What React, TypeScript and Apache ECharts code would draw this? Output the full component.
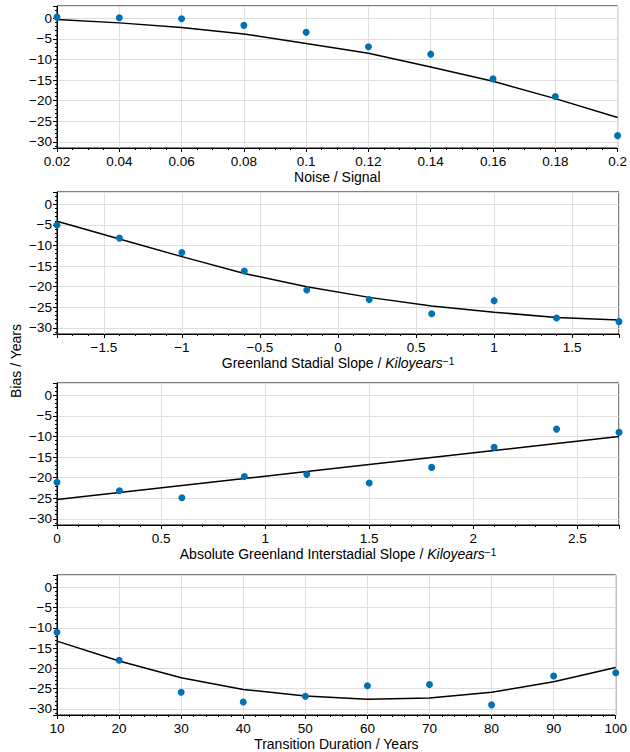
import React, { useEffect, useRef } from "react";
import * as echarts from "echarts";

// Panel 1: Noise / Signal
const noiseX = [0.02, 0.04, 0.06, 0.08, 0.1, 0.12, 0.14, 0.16, 0.18, 0.2];
const noisePts = [0.3, 0.15, -0.1, -1.7, -3.4, -6.9, -8.7, -14.7, -19.0, -28.5];
const noiseFit = [-0.25, -1.1, -2.2, -3.8, -6.1, -8.5, -11.8, -15.3, -19.5, -24.1];

// Panel 2: Greenland Stadial Slope
const stadialX = [-1.8, -1.4, -1.0, -0.6, -0.2, 0.2, 0.6, 1.0, 1.4, 1.8];
const stadialPts = [-5.0, -8.2, -11.7, -16.2, -20.8, -23.1, -26.6, -23.4, -27.6, -28.5];
const stadialFit = [-4.1, -8.4, -12.7, -16.8, -20.0, -22.6, -24.7, -26.2, -27.5, -28.1];

// Panel 3: Absolute Greenland Interstadial Slope
const interX = [0, 0.3, 0.6, 0.9, 1.2, 1.5, 1.8, 2.1, 2.4, 2.7];
const interPts = [-21.1, -23.2, -24.9, -19.7, -19.2, -21.3, -17.5, -12.6, -8.2, -9.0];
const interFit = [-25.3, -23.6, -21.9, -20.2, -18.5, -16.8, -15.1, -13.4, -11.7, -10.0];

// Panel 4: Transition Duration
const durX = [10, 20, 30, 40, 50, 60, 70, 80, 90, 100];
const durPts = [-11.1, -18.0, -25.9, -28.3, -26.9, -24.3, -24.0, -29.0, -21.9, -21.1];
const durFit = [-13.3, -18.2, -22.3, -25.2, -26.8, -27.6, -27.3, -25.9, -23.3, -19.8];

const xNames = [
  "Noise / Signal",
  "Greenland Stadial Slope / {i|Kiloyears}{sup|\u22121}",
  "Absolute Greenland Interstadial Slope / {i|Kiloyears}{sup|\u22121}",
  "Transition Duration / Years",
];
const yTitle = "Bias / Years";

const FONT = "'Liberation Sans', Arial, Helvetica, sans-serif";
const DOT = "#0072b2";
const TICK_FS = 13.5;
const NAME_FS = 14;

function fmtNum(v: number, step: number | null): string {
  if (step !== null) {
    const r = v / step;
    if (Math.abs(r - Math.round(r)) > 1e-6) return "";
  }
  const s = String(Number(v.toFixed(6)));
  return s.replace("-", "\u2212");
}

export default function App() {
  const ref = useRef<HTMLDivElement>(null);
  useEffect(() => {
    document.body.style.margin = "0";
    if (!ref.current) return;
    const chart = echarts.init(ref.current, null, { renderer: "svg" });

    const tops = [6, 192, 383, 575];
    const H = 142;
    const xs = [noiseX, stadialX, interX, durX];
    const pts = [noisePts, stadialPts, interPts, durPts];
    const fits = [noiseFit, stadialFit, interFit, durFit];
    const xCfg = [
      { min: 0.02, max: 0.2, interval: 0.02, minorSplit: 4, step: null },
      { min: -1.8, max: 1.8, splitNumber: 7, minorSplit: 5, step: 0.5 },
      { min: 0, max: 2.7, splitNumber: 5, minorSplit: 5, step: 0.5 },
      { min: 10, max: 100, interval: 10, minorSplit: 5, step: null },
    ];

    const grids = tops.map((t) => ({
      left: 57,
      right: 11,
      top: t,
      height: H,
      show: true,
      borderColor: "#000",
      borderWidth: 1,
      backgroundColor: "transparent",
    }));

    const axisLine = { show: true, onZero: false, lineStyle: { color: "#000", width: 1 } };
    const splitLine = { show: true, lineStyle: { color: "#dedede", width: 1 } };

    const xAxes = xCfg.map((c, i) => {
      const ax: any = {
        type: "value",
        gridIndex: i,
        min: c.min,
        max: c.max,
        name: xNames[i],
        nameLocation: "middle",
        nameGap: 22,
        nameTextStyle: {
          color: "#000",
          fontFamily: FONT,
          fontSize: NAME_FS,
          rich: {
            i: { fontStyle: "italic", fontFamily: FONT, fontSize: NAME_FS, color: "#000" },
            sup: { fontSize: 10, fontFamily: FONT, color: "#000", verticalAlign: "top", lineHeight: 10 },
          },
        },
        axisLine,
        axisTick: { show: true, length: 4, lineStyle: { color: "#000" } },
        minorTick: { show: true, splitNumber: c.minorSplit, length: 2, lineStyle: { color: "#000" } },
        splitLine,
        axisLabel: {
          color: "#000",
          fontFamily: FONT,
          fontSize: TICK_FS,
          margin: 6,
          formatter: (v: number) => fmtNum(v, c.step),
        },
      };
      if ((c as any).interval !== undefined) ax.interval = (c as any).interval;
      if ((c as any).splitNumber !== undefined) ax.splitNumber = (c as any).splitNumber;
      return ax;
    });

    const yAxes = tops.map((_, i) => ({
      type: "value",
      gridIndex: i,
      min: -31.5,
      max: 3,
      splitNumber: 5,
      axisLine,
      axisTick: { show: true, length: 4, lineStyle: { color: "#000" } },
      minorTick: { show: true, splitNumber: 5, length: 2, lineStyle: { color: "#000" } },
      splitLine,
      axisLabel: {
        color: "#000",
        fontFamily: FONT,
        fontSize: TICK_FS,
        margin: 5,
        formatter: (v: number) => fmtNum(v, 5),
      },
    }));

    const series: any[] = [];
    for (let i = 0; i < 4; i++) {
      series.push({
        type: "line",
        xAxisIndex: i,
        yAxisIndex: i,
        data: xs[i].map((x, k) => [x, fits[i][k]]),
        showSymbol: false,
        symbol: "none",
        lineStyle: { color: "#000", width: 1.5 },
        z: 3,
      });
      series.push({
        type: "scatter",
        xAxisIndex: i,
        yAxisIndex: i,
        data: xs[i].map((x, k) => [x, pts[i][k]]),
        symbol: "circle",
        symbolSize: 7,
        itemStyle: { color: DOT, opacity: 1 },
        z: 4,
      });
    }

    chart.setOption({
      animation: false,
      backgroundColor: "#fff",
      textStyle: { fontFamily: FONT },
      grid: grids,
      xAxis: xAxes,
      yAxis: yAxes,
      series,
      graphic: [
        {
          type: "text",
          x: 16,
          y: 361,
          rotation: Math.PI / 2,
          style: {
            text: yTitle,
            fontFamily: FONT,
            fontSize: NAME_FS,
            fill: "#000",
            textAlign: "center",
            textVerticalAlign: "middle",
          },
        },
      ],
    });
    return () => chart.dispose();
  }, []);
  return (
    <div
      ref={ref}
      style={{ width: 630, height: 752, position: "absolute", left: 0, top: 0 }}
    />
  );
}
